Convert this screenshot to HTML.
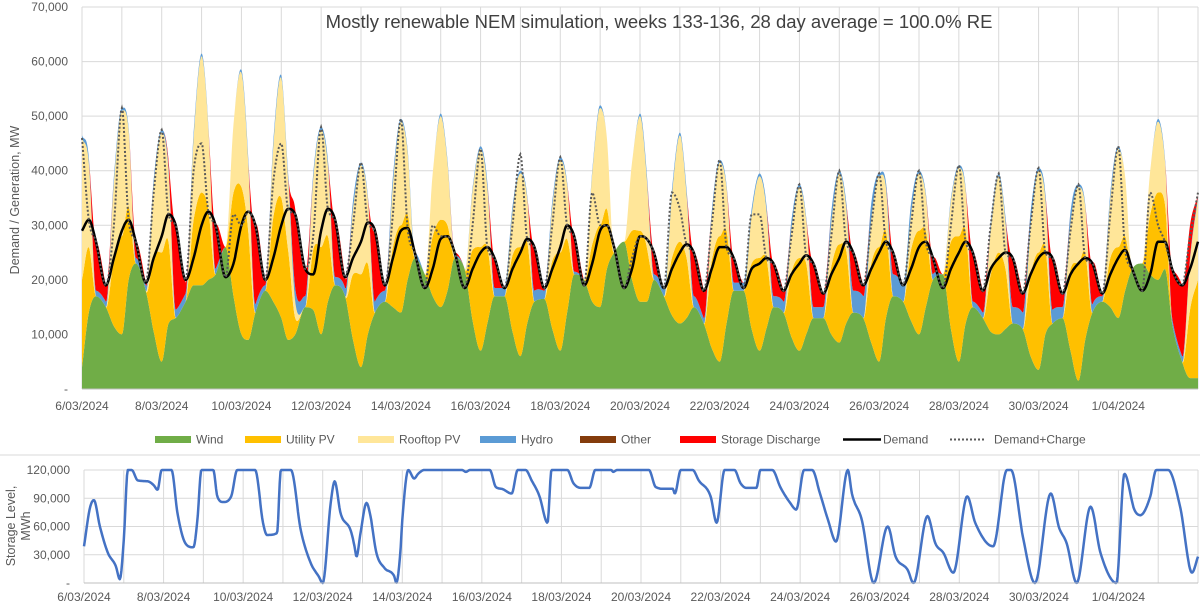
<!DOCTYPE html>
<html><head><meta charset="utf-8">
<style>
html,body{margin:0;padding:0;background:#fff;}
body{width:1200px;height:607px;overflow:hidden;font-family:"Liberation Sans",Arial,sans-serif;}
svg text{font-family:"Liberation Sans",Arial,sans-serif;fill:#595959;}
</style></head>
<body>
<svg id="chart" width="1200" height="607" viewBox="0 0 1200 607" xmlns="http://www.w3.org/2000/svg">
  <rect x="0" y="0" width="1200" height="607" fill="#fff"/>
  <g id="topGrid"></g>
  <g id="topAreas"></g>
  <g id="topLines"></g>
  <g id="topAxis"></g>
  <text x="659" y="28" text-anchor="middle" font-size="18.5" style="fill:#404040">Mostly renewable NEM simulation, weeks 133-136, 28 day average = 100.0% RE</text>
  <text transform="translate(19,200) rotate(-90)" text-anchor="middle" font-size="12.5">Demand / Generation, MW</text>
  <g id="legend"></g>
  <line x1="0" y1="455" x2="1200" y2="455" stroke="#d9d9d9" stroke-width="1"/>
  <g id="botGrid"></g>
  <g id="botLine"></g>
  <g id="botAxis"></g>
  <text transform="translate(15,526) rotate(-90)" text-anchor="middle" font-size="12.5">Storage Level,</text>
  <text transform="translate(30,526) rotate(-90)" text-anchor="middle" font-size="12.5">MWh</text>
</svg>
<script>
// ---------- DATA (thousand MW), 5 samples per day at fractions below ----------
const sampleFractions = [0, 0.17, 0.35, 0.6, 0.8];
const dateLabels = ["6/03/2024","8/03/2024","10/03/2024","12/03/2024","14/03/2024","16/03/2024","18/03/2024","20/03/2024","22/03/2024","24/03/2024","26/03/2024","28/03/2024","30/03/2024","1/04/2024"];
const yTicksTop = [0,10000,20000,30000,40000,50000,60000,70000];
const yTicksBot = [0,30000,60000,90000,120000];
const wind = [
4,14,17,15,11.5, 10,20,23,18,10.5, 5,12,13,16,19, 19,20,21,26,17, 10,9,14,18,16,
13,9,10,15,14.5, 10,16,19,17,9, 4,10,14,16,15, 14,20,24,21,17, 15,18,24,22,12.5,
7,12,17,17,10.5, 6,12,16,16.5,11, 7,14,21,20,16, 15,22,25,27,20, 16,16,20,17,13.5,
12,13,15,12,7.5, 5,12,18,18,11, 7,11,15,14,9.5, 7,10,13,13,10, 8.5,12,14,13,8.5,
5,13,17,16,12.5, 10,15,20,21,11, 5,12,15,13,10.5, 10,11,12,11,6, 3.5,10,12,13,7,
1.5,9,14,16,15, 13,18,22,23,21, 20,22,12,5,2, 2];
const utilityPV = [
16,12,0,0,12.5, 18,13.5,0,0,14, 20,15,0,0,12, 17,13,0,0,19, 27,20,0,0,15.5,
22,16.5,3,0,11, 16,12,0,0,12, 17,13,0,0,11, 16,12,0,0,11, 16,12,0,0,13,
19,14,0,0,14, 20,15,0,0,12.5, 18,13.5,0,0,10.5, 15,11,0,0,9, 13,10,0,0,10.5,
15,11,0,0,16, 23,17,0,0,12, 17,13,0,0,12, 17,13,0,0,12.5, 18,13.5,0,0,14.5,
21,16,0,0,13, 19,14,0,0,16, 23,17,0,0,10.5, 15,11,0,0,15, 21.5,16,0,0,15,
21.5,16,0,0,9, 13,10,0,0,11, 16,12,0,0,12.5, 18];
const rooftopPV = [
26,15.5,0,0,14, 23,14,0,0,13, 22,13,0,0,15, 25,15,0,0,12.5, 21,12.5,0,0,13,
22,13,3,0,13, 21.5,13,0,0,12, 20,12,0,0,11.5, 19,11.5,0,0,11.5, 19,11.5,0,0,11,
18,11,0,0,8, 13.5,8,0,0,10, 17,10,0,0,13, 21.5,13,0,0,12.5, 21,12.5,0,0,11.5,
19.5,11.5,0,0,8, 13.5,8,0,0,9, 15,9,0,0,8, 13,8,0,0,8, 13,8,0,0,8,
13,8,0,0,6.5, 10.5,6.5,0,0,7.5, 12.5,7.5,0,0,8.5, 14,8.5,0,0,9, 15,9,0,0,8.5,
14,8.5,0,0,11, 18,11,0,0,8, 13,8,0,0,9, 15];
const hydro = [
.5,1,1,1,1, .5,.5,1,1,1, .5,1,1.5,1.5,1, .5,.5,1,0,0, .5,1,1.5,1,1,
.5,1,2.5,2,1, .5,1,1.5,1.5,1.5, .5,.5,2,2,1.5, .5,.5,1,0,0, .5,.5,.5,0,.5,
.5,1,1.5,1.5,1, .5,.5,2,1.5,1, .5,.5,.5,0,.5, .5,0,0,0,0, .5,1,1,1.5,1,
.5,1,2,1,1, .5,.5,1.5,1.5,1, .5,1,2,2,1.5, .5,.5,2,2,2, .5,1,4,4,3,
.5,1,4,3,2, .5,.5,1,0,.5, .5,.5,1,1,1, .5,1,3,3,2.5, .5,1,2.5,2,2,
.5,.5,1.5,1,1, .5,0,0,0,0, .5,.5,1,1,.5, .5];
const storageDischarge = [
0,0,9,3,0, 0,0,3,.5,0, 0,1,15.5,2,0, 0,0,8,0,0, 0,0,14.5,1,0,
0,0,14.5,5,0, 0,0,10.5,2,0, 0,0,13,1,0, 0,0,0,0,0, 0,0,.5,0,0,
0,0,5.5,0,0, 0,0,8,.5,0, 0,0,6.5,0,0, 0,0,0,0,0, 0,0,4,0,0,
0,0,8,5,0, 0,0,4.5,0,0, 0,0,6,2,0, 0,0,8,2.5,0, 0,0,7,2,0,
0,0,4,0,0, 0,0,3,0,0, 0,0,9,4,0, 0,0,9,3.5,0, 0,0,9.5,2.5,0,
0,0,7.5,.5,0, 0,0,0,0,0, 0,0,9,13,6, 0];
const demand = [
29,31,27,19,24, 29,31,27,19.5,24, 28,32,30,20,24, 30,32.5,30,20.5,23, 30,32.5,30,20,24,
30,33,32,22,21, 29,33,31,20.5,24, 27,30.5,29,19,24, 29,29.5,25,18.5,22, 27.5,28,25,18.5,22,
25,26,24,18.5,22, 25,27.5,26,18.5,22, 26,30,28,19,23, 29,30,26,18.5,22, 28,27.5,25,18.5,22,
25,26.5,25,18,22, 26,26,24,18.5,22, 23,24,23,18,21, 23,24.5,23,17.5,21, 24,27,25,19,22,
25,27,25,19,22, 26,27,24,18.5,22, 25,27,25,18,22, 24,25,24,17.5,21, 24,25,24,17.5,21,
23,24,23,17.5,21, 24,25.5,22,18,21, 27,27,22,19,22, 27];
const demandPlusCharge = [
46,31,27,19,30, 51.5,31,27,19.5,36, 47.5,32,30,20,40, 45,32.5,30,20.5,32, 30,32.5,30,20,38,
45,33,32,22,28, 48,33,31,20.5,30, 41.5,30.5,29,19,32, 49.5,29.5,25,18.5,30, 28,28,25,18.5,30,
44,26,24,18.5,30, 43,27.5,26,18.5,30, 42.5,30,28,19,36, 30,30,26,18.5,24, 28,27.5,25,18.5,36,
33,26.5,25,18,30, 42,26,24,18.5,32, 32,24,23,18,28, 37.5,24.5,23,17.5,28, 40,27,25,19,30,
39.5,27,25,19,30, 40,27,24,18.5,30, 41,27,25,18,30, 39.5,25,24,17.5,30, 40.5,25,24,17.5,29,
37.5,24,23,17.5,32, 44.5,25.5,22,18,36, 30,27,22,19,28, 36];
// storage level (thousand MWh) at given day positions
const storageDays = [0,0.15,0.25,0.4,0.6,0.8,0.9,1.0,1.1,1.2,1.35,1.6,1.75,1.85,1.95,2.2,2.35,2.55,2.75,2.85,2.95,3.25,3.35,3.5,3.7,3.85,4.3,4.5,4.6,4.85,4.95,5.2,5.45,5.7,5.9,6.0,6.2,6.3,6.45,6.7,6.8,6.85,6.95,7.1,7.2,7.35,7.55,7.8,7.85,7.95,8.0,8.15,8.3,8.4,8.55,9.5,9.6,9.7,10.2,10.35,10.5,10.75,10.9,11.1,11.25,11.45,11.65,11.75,11.9,12.15,12.3,12.5,12.7,12.85,13.25,13.3,13.4,14.2,14.37,14.6,14.8,14.85,15.0,15.3,15.45,15.75,15.9,16.1,16.35,16.5,16.65,16.9,17.0,17.3,17.5,17.75,17.9,18.1,18.3,18.5,18.7,18.9,19.2,19.3,19.55,19.85,20.2,20.4,20.7,20.85,21.2,21.4,21.6,21.85,22.2,22.4,22.85,23.2,23.3,23.6,23.9,24.3,24.5,24.7,24.95,25.3,25.55,25.95,26.15,26.4,26.55,26.8,26.95,27.25,27.55,27.85,28];
const storageVals = [39,80,88,60,32,18,4,46,120,120,109,108,104,99,120,120,74,42,38,67,120,120,92,86,92,120,120,64,51,53,120,120,56,21,7,0,85,108,74,56,39,28,53,85,71,32,16,7,0,32,67,120,111,116,120,120,118,120,120,102,100,95,120,120,109,92,64,120,120,120,106,101,101,120,120,118,120,120,102,100,100,95,120,120,109,92,64,120,120,106,101,101,120,120,102,85,78,120,120,95,67,44,120,95,67,0,60,28,14,0,71,42,32,11,92,64,39,120,120,49,0,95,60,42,0,81,32,0,116,78,72,92,120,120,81,11,28];
</script>
<script>
const NS="http://www.w3.org/2000/svg";
function mk(tag, attrs, parent){const e=document.createElementNS(NS,tag);for(const k in attrs)e.setAttribute(k,attrs[k]);parent.appendChild(e);return e;}
const T={x0:82,x1:1198,y0:389,y1:7}; const B={x0:84,x1:1198,y0:583,y1:470};
const NDAYS=28;
const xT=d=>T.x0+(T.x1-T.x0)*d/NDAYS;
const yT=v=>T.y0-(T.y0-T.y1)*v/70000;
const xB=d=>B.x0+(B.x1-B.x0)*d/NDAYS;
const yB=v=>B.y0-(B.y0-B.y1)*v/120000;

function mono(xs,ys){const n=xs.length,d=[],m=[];for(let i=0;i<n-1;i++)d.push((ys[i+1]-ys[i])/(xs[i+1]-xs[i]));
 m[0]=d[0];m[n-1]=d[n-2];for(let i=1;i<n-1;i++){m[i]=(d[i-1]*d[i]<=0)?0:(d[i-1]+d[i])/2;}
 for(let i=0;i<n-1;i++){if(d[i]===0){m[i]=0;m[i+1]=0;continue;}const a=m[i]/d[i],b=m[i+1]/d[i],s=a*a+b*b;if(s>9){const t=3/Math.sqrt(s);m[i]=t*a*d[i];m[i+1]=t*b*d[i];}}
 return x=>{let i=0;if(x<=xs[0])return ys[0];if(x>=xs[n-1])return ys[n-1];while(i<n-2&&x>xs[i+1])i++;
  const h=xs[i+1]-xs[i],t=(x-xs[i])/h,t2=t*t,t3=t2*t;
  return (2*t3-3*t2+1)*ys[i]+(t3-2*t2+t)*h*m[i]+(-2*t3+3*t2)*ys[i+1]+(t3-t2)*h*m[i+1];};}

const times=[];for(let d=0;d<NDAYS;d++)for(const f of sampleFractions)times.push(d+f);times.push(NDAYS);

const tg=document.getElementById('topGrid');
yTicksTop.forEach(v=>{const l=mk('line',{x1:T.x0,x2:T.x1,y1:yT(v),y2:yT(v),stroke:'#d9d9d9','stroke-width':1},tg);});
for(let d=0;d<=NDAYS;d++){const l=mk('line',{x1:xT(d),x2:xT(d),y1:T.y1,y2:T.y0,stroke:'#d9d9d9','stroke-width':1},tg);}
const bg=document.getElementById('botGrid');
yTicksBot.forEach(v=>{const l=mk('line',{x1:B.x0,x2:B.x1,y1:yB(v),y2:yB(v),stroke:'#d9d9d9','stroke-width':1},bg);});
for(let d=0;d<=NDAYS;d++){const l=mk('line',{x1:xB(d),x2:xB(d),y1:B.y1,y2:B.y0,stroke:'#d9d9d9','stroke-width':1},bg);}

const stackSeries=[["wind",wind,"#70AD47"],["utility-pv",utilityPV,"#FFC000"],["rooftop-pv",rooftopPV,"#FFE699"],["hydro",hydro,"#5B9BD5"],["storage-discharge",storageDischarge,"#FF0000"]];
const fns=stackSeries.map(s=>mono(times,s[1].map(v=>v*1000)));
const step=0.02;const xsS=[];for(let t=0;t<=NDAYS+1e-9;t+=step)xsS.push(Math.min(t,NDAYS));
let lower=xsS.map(()=>0);
const ga=document.getElementById('topAreas');
stackSeries.forEach((s,i)=>{const upper=xsS.map((t,j)=>lower[j]+Math.max(0,fns[i](t)));
 let p='M'+xsS.map((t,j)=>xT(t).toFixed(1)+','+yT(upper[j]).toFixed(1)).join('L');
 for(let j=xsS.length-1;j>=0;j--)p+='L'+xT(xsS[j]).toFixed(1)+','+yT(lower[j]).toFixed(1);
 const el=mk('path',{d:p+'Z',fill:s[2],stroke:'none'},ga);
 
 
 lower=upper;});

const gl=document.getElementById('topLines');
function linePath(arr){const f=mono(times,arr.map(v=>v*1000));return 'M'+xsS.map(t=>xT(t).toFixed(1)+','+yT(f(t)).toFixed(1)).join('L');}
const dl=mk('path',{d:linePath(demand),fill:'none',stroke:'#000','stroke-width':2.5},gl);


const dcl=mk('path',{d:linePath(demandPlusCharge),fill:'none',stroke:'#595959','stroke-width':2,'stroke-dasharray':'2 2'},gl);



const ta=document.getElementById('topAxis');
mk('line',{x1:T.x0,x2:T.x1,y1:T.y0,y2:T.y0,stroke:'#bfbfbf','stroke-width':1},ta);
yTicksTop.forEach(v=>{const t=mk('text',{x:68,y:yT(v)+4,'text-anchor':'end','font-size':12},ta);t.textContent=v===0?'-':v.toLocaleString('en-US');});
dateLabels.forEach((s,i)=>{const t=mk('text',{x:xT(i*2),y:410,'text-anchor':'middle','font-size':12},ta);t.textContent=s;});

const sf=mono(storageDays,storageVals.map(v=>v*1000));
const sp='M'+xsS.map(t=>xB(t).toFixed(1)+','+yB(Math.max(0,Math.min(120000,sf(t)))).toFixed(1)).join('L');
const sl=mk('path',{d:sp,fill:'none',stroke:'#4472C4','stroke-width':2.5,'stroke-linejoin':'round'},document.getElementById('botLine'));


const ba=document.getElementById('botAxis');
mk('line',{x1:B.x0,x2:B.x1,y1:B.y0,y2:B.y0,stroke:'#bfbfbf','stroke-width':1},ba);
yTicksBot.forEach(v=>{const t=mk('text',{x:70,y:yB(v)+4,'text-anchor':'end','font-size':12},ba);t.textContent=v===0?'-':v.toLocaleString('en-US');});
dateLabels.forEach((s,i)=>{const t=mk('text',{x:xB(i*2),y:601,'text-anchor':'middle','font-size':12},ba);t.textContent=s;});

const lg=document.getElementById('legend');
const legendItems=[["Wind","#70AD47",155,"box"],["Utility PV","#FFC000",245,"box"],["Rooftop PV","#FFE699",358,"box"],["Hydro","#5B9BD5",480,"box"],["Other","#843C0C",580,"box"],["Storage Discharge","#FF0000",680,"box"],["Demand","#000",843,"line"],["Demand+Charge","#595959",950,"dot"]];
legendItems.forEach(it=>{const g=mk('g',{},lg);
 if(it[3]==='box')mk('rect',{x:it[2],y:436,width:36,height:7,fill:it[1]},g);
 else if(it[3]==='line')mk('line',{x1:it[2],x2:it[2]+38,y1:439.5,y2:439.5,stroke:it[1],'stroke-width':2.5},g);
 else mk('line',{x1:it[2],x2:it[2]+36,y1:439.5,y2:439.5,stroke:it[1],'stroke-width':2,'stroke-dasharray':'2 2'},g);
 const t=mk('text',{x:it[2]+(it[3]==='dot'?44:(it[3]==='line'?40:41)),y:443.5,'font-size':12},g);t.textContent=it[0];});
</script>
</body></html>
